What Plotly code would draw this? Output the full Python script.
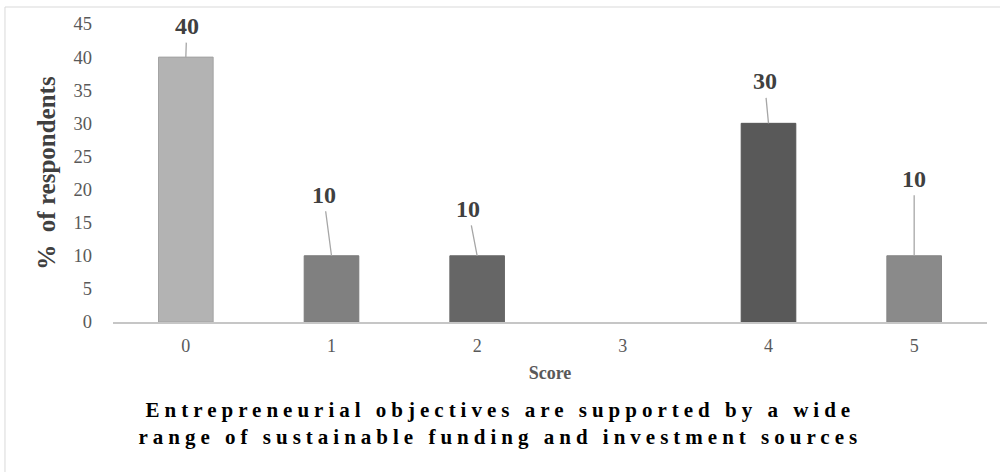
import plotly.graph_objects as go

# ---- data ----
scores = ["0", "1", "2", "3", "4", "5"]
percent = [40, 10, 10, 0, 30, 10]

# ---- styles ----
bar_colors = ["#b3b3b3", "#808080", "#666666", "#666666", "#595959", "#8a8a8a"]
bar_line_colors = ["#a3a3a3", "#7a7a7a", "#6a6a6a", "#666666", "#555555", "#858585"]
bar_line_widths = [1, 1, 1, 0, 1, 1]
label_offsets = [(1, -31), (-8, -61), (-9, -47), (0, 0), (-4, -42), (0, -77)]

SERIF = "Liberation Serif, Times New Roman, serif"

fig = go.Figure()
fig.add_trace(go.Bar(
    x=scores, y=percent, width=0.375,
    marker=dict(color=bar_colors, line=dict(color=bar_line_colors, width=bar_line_widths)),
    hoverinfo="skip",
))

annotations = []
for s, v, (ax, ay) in zip(scores, percent, label_offsets):
    if v == 0:
        continue
    annotations.append(dict(
        x=s, y=v, xref="x", yref="y", text=str(v),
        showarrow=True, arrowhead=0, arrowwidth=1.3, arrowcolor="#a6a6a6",
        ax=ax, ay=ay, borderpad=3,
        font=dict(family=SERIF, size=24, color="#404040", weight="bold"),
    ))

annotations.append(dict(
    x=0.443, y=-0.342, xref="paper", yref="paper",
    xanchor="center", yanchor="middle", showarrow=False, align="center",
    text="Entrepreneurial objectives are supported by a wide<br>range of sustainable funding and investment sources",
    font=dict(family=SERIF, size=21, color="#000000", weight="bold"),
))

fig.update_layout(
    width=1000, height=472,
    margin=dict(l=113, r=13, t=24, b=150),
    paper_bgcolor="white", plot_bgcolor="white",
    showlegend=False,
    annotations=annotations,
    shapes=[dict(type="rect", xref="paper", yref="paper",
                 x0=-0.1236, x1=1.03, y0=-0.6, y1=1.057,
                 line=dict(color="#d9d9d9", width=1), fillcolor="rgba(0,0,0,0)",
                 layer="below")],
)
fig.update_xaxes(
    showline=True, linecolor="#c6c6c6", linewidth=2, showgrid=False, zeroline=False,
    ticks="", tickfont=dict(family=SERIF, size=18, color="#595959"),
    ticklabelstandoff=6,
    title=dict(text="Score", font=dict(family=SERIF, size=18, color="#595959", weight="bold"), standoff=12),
)
fig.update_yaxes(
    range=[0, 45], tickvals=list(range(0, 50, 5)),
    showline=False, showgrid=False, zeroline=False, ticks="",
    tickfont=dict(family=SERIF, size=18.5, color="#595959"),
    ticklabelstandoff=20,
    title=dict(text="%  of respondents", font=dict(family=SERIF, size=25, color="#404040", weight="bold"), standoff=10),
)

post = ("var s=document.createElement('style');"
        "s.textContent='g.annotation[data-index=\"5\"] text{letter-spacing:5px}';"
        "document.head.appendChild(s);")
fig.write_html("out.html", post_script=post)
